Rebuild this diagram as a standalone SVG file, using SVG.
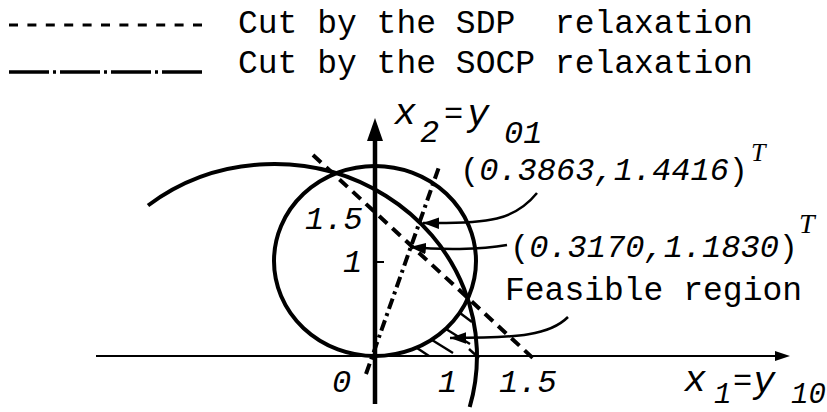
<svg xmlns="http://www.w3.org/2000/svg" width="827" height="412" viewBox="0 0 827 412">
<style>
 .mono{font-family:"Liberation Mono","Courier New",monospace;fill:#000}
 .it{font-style:italic}
 .ser{font-family:"Liberation Serif","Times New Roman",serif;font-style:italic;fill:#000}
 .thick{fill:none;stroke:#000;stroke-width:4}
 .dash{fill:none;stroke:#000;stroke-width:4;stroke-dasharray:11 7}
 .dashdot{fill:none;stroke:#000;stroke-width:4;stroke-dasharray:11 4.5 3 4.5}
 .lead{fill:none;stroke:#000;stroke-width:2.5}
 .hatch{fill:none;stroke:#000;stroke-width:2.4}
</style>
<defs>
 <marker id="ah" markerUnits="userSpaceOnUse" markerWidth="16" markerHeight="12" refX="14" refY="5" orient="auto" viewBox="0 0 14 10"><path d="M0,0 L14,5 L0,10 Z" fill="#000"/></marker>
</defs>
<rect width="827" height="412" fill="#fff"/>

<g id="legend">
 <line x1="9" y1="25" x2="202" y2="25" stroke="#000" stroke-width="3.2" stroke-dasharray="9 9.4"/>
 <line x1="9" y1="72" x2="202" y2="72" stroke="#000" stroke-width="3.6" stroke-dasharray="40 4 3 4"/>
 <text class="mono" x="238" y="33" font-size="33" xml:space="preserve">Cut by the SDP  relaxation</text>
 <text class="mono" x="238" y="73" font-size="33" xml:space="preserve">Cut by the SOCP relaxation</text>
</g>

<g id="axes">
 <line x1="96" y1="356" x2="778" y2="356" stroke="#000" stroke-width="2"/>
 <polygon points="790,356 775,351 775,361" fill="#000"/>
 <line x1="375" y1="404" x2="375" y2="138" stroke="#000" stroke-width="4.5"/>
 <polygon points="375,118 367,141 383,141" fill="#000"/>
 <line x1="375" y1="262" x2="384" y2="262" stroke="#000" stroke-width="2"/>
</g>

<g id="small-circle">
 <ellipse class="thick" cx="375" cy="261" rx="101" ry="95"/>
</g>

<g id="big-circle">
 <path class="thick" d="M148,205.5 A203,192 0 0 1 469.7,407"/>
</g>

<g id="sdp-cut">
 <line class="dash" x1="313" y1="155" x2="535" y2="360"/>
</g>

<g id="socp-cut">
 <line class="dashdot" x1="366" y1="374" x2="439" y2="167"/>
</g>

<g id="feasible-region">
 <line class="hatch" x1="460" y1="313" x2="472" y2="322"/>
 <line class="hatch" x1="446" y1="329" x2="470" y2="344"/>
 <line class="hatch" x1="432" y1="340" x2="453" y2="353"/>
 <line class="hatch" x1="417" y1="348" x2="429" y2="356"/>
 <line class="hatch" x1="469" y1="349" x2="479" y2="358"/>
</g>

<g id="connectors">
 <path class="lead" d="M537,193 C515,220 490,224 423,223" marker-end="url(#ah)"/>
 <path class="lead" d="M507,245 C480,250 440,250 410,247" marker-end="url(#ah)"/>
 <path class="lead" d="M568,317 C550,335 520,338 450,338" marker-end="url(#ah)"/>
</g>

<g id="tick-labels">
 <text class="mono it" x="305" y="229" font-size="32">1.5</text>
 <text class="mono it" x="343" y="272" font-size="32">1</text>
 <text class="mono it" x="332" y="392" font-size="32">0</text>
 <text class="mono it" x="438" y="392" font-size="32">1</text>
 <text class="mono it" x="499" y="392" font-size="32">1.5</text>
</g>

<g id="label-x2">
 <text class="mono it" font-size="32"><tspan x="394" y="124" font-size="37">x</tspan><tspan x="420" y="142">2</tspan><tspan x="444" y="123" font-style="normal">=</tspan><tspan x="467" y="125" font-size="37">y</tspan><tspan x="504" y="143">01</tspan></text>
</g>

<g id="label-x1">
 <text class="mono it" font-size="29"><tspan x="684" y="391" font-size="37">x</tspan><tspan x="714" y="403">1</tspan><tspan x="733" y="390" font-size="32" font-style="normal">=</tspan><tspan x="753" y="392" font-size="37">y</tspan><tspan x="791" y="403">10</tspan></text>
</g>

<g id="point-sdp">
 <text class="mono" font-size="32" x="460" y="180">(<tspan font-style="italic">0.3863,1.4416</tspan>)</text>
 <text class="ser" x="751" y="161" font-size="26">T</text>
</g>

<g id="point-socp">
 <text class="mono" font-size="32" x="510" y="257">(<tspan font-style="italic">0.3170,1.1830</tspan>)</text>
 <text class="ser" x="799" y="233" font-size="28">T</text>
</g>

<g id="label-feasible">
 <text class="mono" font-size="33" x="505" y="300">Feasible region</text>
</g>
</svg>
